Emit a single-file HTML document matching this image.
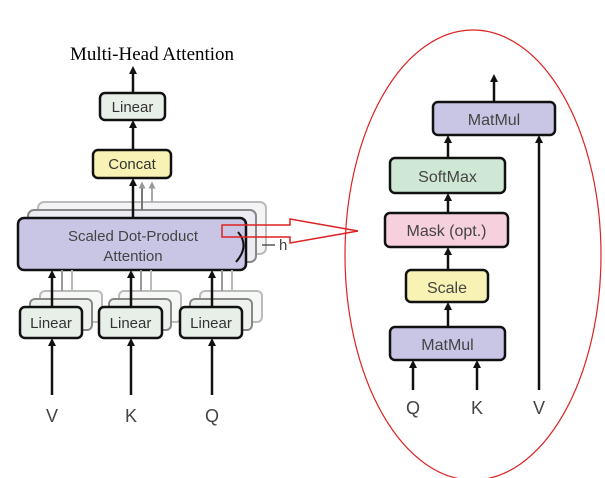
<!DOCTYPE html>
<html><head><meta charset="utf-8"><style>body{margin:0;background:#fff}svg{display:block}</style></head><body>
<svg width="605" height="478" viewBox="0 0 605 478" xmlns="http://www.w3.org/2000/svg" font-family="Liberation Sans, sans-serif">
<defs>
<marker id="a" markerWidth="8" markerHeight="8" refX="4" refY="4" orient="auto" markerUnits="userSpaceOnUse"><path d="M0,0 L8,4 L0,8 z" fill="#111"/></marker>
<marker id="g" markerWidth="7" markerHeight="7" refX="3.5" refY="3.5" orient="auto" markerUnits="userSpaceOnUse"><path d="M0,0 L7,3.5 L0,7 z" fill="#999"/></marker>
</defs>
<text x="152" y="60" text-anchor="middle" font-family="Liberation Serif, serif" font-size="19">Multi-Head Attention</text>
<line x1="133" y1="93" x2="133" y2="70" stroke="#111" stroke-width="2.5" marker-end="url(#a)"/>
<rect x="100" y="93" width="65" height="27" rx="5" fill="#e8efe8" stroke="#111" stroke-width="2.5"/>
<text x="132.5" y="112" text-anchor="middle" font-size="15" fill="#333">Linear</text>
<line x1="133" y1="150" x2="133" y2="124" stroke="#111" stroke-width="2.5" marker-end="url(#a)"/>
<rect x="93" y="150" width="78" height="28" rx="5" fill="#f8f3b5" stroke="#111" stroke-width="2.5"/>
<text x="132" y="169" text-anchor="middle" font-size="15" fill="#333">Concat</text>
<rect x="38" y="202" width="228" height="52" rx="6" fill="#f4f4f6" stroke="#bbb" stroke-width="2"/>
<rect x="28" y="210" width="228" height="52" rx="6" fill="#ececf2" stroke="#888" stroke-width="2"/>
<line x1="152" y1="202" x2="152" y2="185" stroke="#aaa" stroke-width="2" marker-end="url(#g)"/>
<line x1="142" y1="210" x2="142" y2="185" stroke="#777" stroke-width="2" marker-end="url(#g)"/>
<line x1="133" y1="218" x2="133" y2="182" stroke="#111" stroke-width="2.5" marker-end="url(#a)"/>
<rect x="18" y="218" width="228" height="52" rx="6" fill="#c9c5e5" stroke="#111" stroke-width="2.5"/>
<text x="133" y="241" text-anchor="middle" font-size="15" fill="#444">Scaled Dot-Product</text>
<text x="133" y="261" text-anchor="middle" font-size="15" fill="#444">Attention</text>
<path d="M238,232 Q250,246 236,262" fill="none" stroke="#111" stroke-width="2"/>
<line x1="262" y1="245" x2="275" y2="245" stroke="#555" stroke-width="1.5"/>
<text x="279" y="250" font-size="15" fill="#444">h</text>
<path d="M222,225 L290,225 L290,219 L358,231 L290,243 L290,237 L222,237 z" fill="none" stroke="#d22" stroke-width="1.5"/>
<g>
<rect x="40" y="291" width="62" height="31" rx="5" fill="#f6f8f6" stroke="#bbb" stroke-width="2"/>
<rect x="30" y="299" width="62" height="31" rx="5" fill="#eef2ee" stroke="#888" stroke-width="2"/>
<rect x="119" y="291" width="62" height="31" rx="5" fill="#f6f8f6" stroke="#bbb" stroke-width="2"/>
<rect x="109" y="299" width="62" height="31" rx="5" fill="#eef2ee" stroke="#888" stroke-width="2"/>
<rect x="200" y="291" width="62" height="31" rx="5" fill="#f6f8f6" stroke="#bbb" stroke-width="2"/>
<rect x="190" y="299" width="62" height="31" rx="5" fill="#eef2ee" stroke="#888" stroke-width="2"/>
<line x1="62" y1="291" x2="62" y2="270" stroke="#999" stroke-width="2"/>
<line x1="72" y1="291" x2="72" y2="270" stroke="#bbb" stroke-width="2"/>
<line x1="141" y1="291" x2="141" y2="270" stroke="#999" stroke-width="2"/>
<line x1="151" y1="291" x2="151" y2="270" stroke="#bbb" stroke-width="2"/>
<line x1="222" y1="291" x2="222" y2="270" stroke="#999" stroke-width="2"/>
<line x1="232" y1="291" x2="232" y2="270" stroke="#bbb" stroke-width="2"/>
</g>
<line x1="52" y1="307" x2="52" y2="274" stroke="#111" stroke-width="2.5" marker-end="url(#a)"/>
<line x1="131" y1="307" x2="131" y2="274" stroke="#111" stroke-width="2.5" marker-end="url(#a)"/>
<line x1="212" y1="307" x2="212" y2="274" stroke="#111" stroke-width="2.5" marker-end="url(#a)"/>
<rect x="20" y="307" width="62" height="31" rx="5" fill="#e8efe8" stroke="#111" stroke-width="2.5"/>
<rect x="99" y="307" width="63" height="31" rx="5" fill="#e8efe8" stroke="#111" stroke-width="2.5"/>
<rect x="180" y="307" width="62" height="31" rx="5" fill="#e8efe8" stroke="#111" stroke-width="2.5"/>
<text x="51" y="328" text-anchor="middle" font-size="15" fill="#333">Linear</text>
<text x="130.5" y="328" text-anchor="middle" font-size="15" fill="#333">Linear</text>
<text x="211" y="328" text-anchor="middle" font-size="15" fill="#333">Linear</text>
<line x1="52" y1="395" x2="52" y2="342" stroke="#111" stroke-width="2.5" marker-end="url(#a)"/>
<line x1="131" y1="395" x2="131" y2="342" stroke="#111" stroke-width="2.5" marker-end="url(#a)"/>
<line x1="212" y1="395" x2="212" y2="342" stroke="#111" stroke-width="2.5" marker-end="url(#a)"/>
<text x="52" y="422" text-anchor="middle" font-size="18" fill="#444">V</text>
<text x="131" y="422" text-anchor="middle" font-size="18" fill="#444">K</text>
<text x="212" y="422" text-anchor="middle" font-size="18" fill="#444">Q</text>
<ellipse cx="473" cy="255" rx="128" ry="225" fill="none" stroke="#d22" stroke-width="1.2"/>
<line x1="494" y1="102" x2="494" y2="78" stroke="#111" stroke-width="2.5" marker-end="url(#a)"/>
<rect x="433" y="102" width="122" height="33" rx="5" fill="#c9c5e5" stroke="#111" stroke-width="2.5"/>
<text x="494" y="125" text-anchor="middle" font-size="16" fill="#444">MatMul</text>
<line x1="448" y1="158" x2="448" y2="139" stroke="#111" stroke-width="2.5" marker-end="url(#a)"/>
<rect x="390" y="158" width="115" height="35" rx="5" fill="#cfe8d5" stroke="#111" stroke-width="2.5"/>
<text x="447.5" y="182" text-anchor="middle" font-size="16" fill="#444">SoftMax</text>
<line x1="448" y1="213" x2="448" y2="197" stroke="#111" stroke-width="2.5" marker-end="url(#a)"/>
<rect x="385" y="213" width="123" height="34" rx="5" fill="#f6d0dc" stroke="#111" stroke-width="2.5"/>
<text x="446.5" y="236" text-anchor="middle" font-size="16" fill="#444">Mask (opt.)</text>
<line x1="448" y1="270" x2="448" y2="251" stroke="#111" stroke-width="2.5" marker-end="url(#a)"/>
<rect x="406" y="270" width="82" height="32" rx="5" fill="#f8f3b5" stroke="#111" stroke-width="2.5"/>
<text x="447" y="293" text-anchor="middle" font-size="16" fill="#444">Scale</text>
<line x1="448" y1="327" x2="448" y2="306" stroke="#111" stroke-width="2.5" marker-end="url(#a)"/>
<rect x="390" y="327" width="115" height="33" rx="5" fill="#c9c5e5" stroke="#111" stroke-width="2.5"/>
<text x="447.5" y="350" text-anchor="middle" font-size="16" fill="#444">MatMul</text>
<line x1="413" y1="390" x2="413" y2="364" stroke="#111" stroke-width="2.5" marker-end="url(#a)"/>
<line x1="477" y1="390" x2="477" y2="364" stroke="#111" stroke-width="2.5" marker-end="url(#a)"/>
<line x1="539" y1="390" x2="539" y2="139" stroke="#111" stroke-width="2.5" marker-end="url(#a)"/>
<text x="413" y="414" text-anchor="middle" font-size="18" fill="#444">Q</text>
<text x="477" y="414" text-anchor="middle" font-size="18" fill="#444">K</text>
<text x="539" y="414" text-anchor="middle" font-size="18" fill="#444">V</text>
</svg>
</body></html>
